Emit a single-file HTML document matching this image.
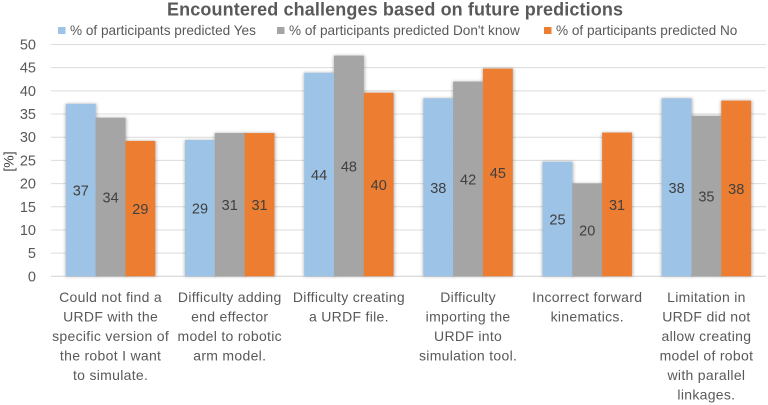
<!DOCTYPE html>
<html lang="en">
<head>
<meta charset="utf-8">
<title>Encountered challenges based on future predictions</title>
<style>
  html, body { margin: 0; padding: 0; background: #fff; }
  svg { display: block; font-family: "Liberation Sans", sans-serif; }
</style>
</head>
<body>
<svg id="chart" width="768" height="405" viewBox="0 0 768 405" xmlns="http://www.w3.org/2000/svg">
  <defs>
    <filter id="bar-shadow" x="-30%" y="-5%" width="160%" height="110%">
      <feGaussianBlur stdDeviation="1.6"/>
    </filter>
  </defs>
  <rect x="0" y="0" width="768" height="405" fill="#ffffff"/>
  <text x="395" y="15.5" text-anchor="middle" font-size="18" font-weight="700" fill="#595959" textLength="456" lengthAdjust="spacing">Encountered  challenges  based  on  future  predictions</text>
  <text transform="translate(13.5,161.5) rotate(-90)" text-anchor="middle" font-size="14" fill="#404040">[%]</text>
  <g id="grid"></g>
  <g id="yticks"></g>
  <g id="bars"></g>
  <g id="labels"></g>
  <g id="xlabels"></g>
  <g id="legend"></g>
</svg>
<script>
var categories = [
  ["Could not find a", "URDF with the", "specific version of", "the robot I want", "to simulate."],
  ["Difficulty adding", "end effector", "model to robotic", "arm model."],
  ["Difficulty creating", "a URDF file."],
  ["Difficulty", "importing the", "URDF into", "simulation tool."],
  ["Incorrect forward", "kinematics."],
  ["Limitation in", "URDF did not", "allow creating", "model of robot", "with parallel", "linkages."]
];
var seriesNames = ["% of participants predicted Yes", "% of participants predicted Don't know", "% of participants predicted No"];
var yesValues = [37.2, 29.4, 43.9, 38.4, 24.7, 38.4];
var dontKnowValues = [34.2, 30.9, 47.6, 42.0, 20.0, 34.6];
var noValues = [29.2, 30.9, 39.6, 44.8, 31.0, 37.9];
var yTicks = [0, 5, 10, 15, 20, 25, 30, 35, 40, 45, 50];

var SVGNS = "http://www.w3.org/2000/svg";
var plotLeft = 51, plotRight = 766, plotBottom = 276.3, plotTop = 44.5, yMax = 50;
var seriesColors = ["#9dc3e6", "#a5a5a5", "#ed7d31"];
var seriesValues = [yesValues, dontKnowValues, noValues];

function yScale(v) { return plotBottom - (v / yMax) * (plotBottom - plotTop); }
function groupWidth() { return (plotRight - plotLeft) / categories.length; }
function barWidth() { return groupWidth() / (seriesValues.length + 1); }
function groupCenter(i) { return plotLeft + groupWidth() * (i + 0.5); }
function barX(i, s) { return groupCenter(i) - barWidth() * seriesValues.length / 2 + s * barWidth(); }
function make(tag, attrs, parent, text) {
  var el = document.createElementNS(SVGNS, tag);
  for (var k in attrs) { el.setAttribute(k, attrs[k]); }
  if (text !== undefined) { el.textContent = text; }
  parent.appendChild(el);
  return el;
}

var grid = document.getElementById("grid");
var yticks = document.getElementById("yticks");
yTicks.forEach(function (t) {
  var line = make("line", { x1: plotLeft, x2: plotRight, y1: yScale(t), y2: yScale(t), stroke: t === 0 ? "#d0d0d0" : "#dcdcdc", "stroke-width": 1 }, grid);
  
  
  var label = make("text", { x: 36, y: yScale(t) + 5, "text-anchor": "end", "font-size": 14.5, fill: "#595959" }, yticks, String(t));
  
  
});

var bars = document.getElementById("bars");
var labels = document.getElementById("labels");
seriesValues.forEach(function (values, s) {
  values.forEach(function (v, i) {
    var x = barX(i, s), w = barWidth(), y = yScale(v), h = plotBottom - y;
    var shadow = make("rect", { x: x - 0.5, y: y, width: w + 1.5, height: h, fill: "#000", opacity: 0.28, filter: "url(#bar-shadow)" }, bars);
    
    
  });
});
seriesValues.forEach(function (values, s) {
  values.forEach(function (v, i) {
    var x = barX(i, s), w = barWidth(), y = yScale(v), h = plotBottom - y;
    var bar = make("rect", { x: x, y: y, width: w, height: h, fill: seriesColors[s] }, bars);
    
    
    var value = make("text", { x: x + w / 2, y: y + h / 2 + 5.5, "text-anchor": "middle", "font-size": 14.5, fill: "#404040" }, labels, String(Math.round(v)));
    
    
  });
});

var xlabels = document.getElementById("xlabels");
categories.forEach(function (lines, i) {
  lines.forEach(function (line, n) {
    var t = make("text", { x: groupCenter(i), y: 302 + n * 19.5, "text-anchor": "middle", "font-size": 14, "letter-spacing": 0.3, fill: "#595959" }, xlabels, line);
    
    
  });
});

var legend = document.getElementById("legend");
var legendStarts = [58, 277, 544];
seriesNames.forEach(function (name, s) {
  var swatch = make("rect", { x: legendStarts[s], y: 27, width: 7.5, height: 7, fill: seriesColors[s] }, legend);
  
  
  var entry = make("text", { x: legendStarts[s] + 12, y: 35, "font-size": 13.6, fill: "#595959" }, legend, name);
  
  
});
</script>
</body>
</html>
